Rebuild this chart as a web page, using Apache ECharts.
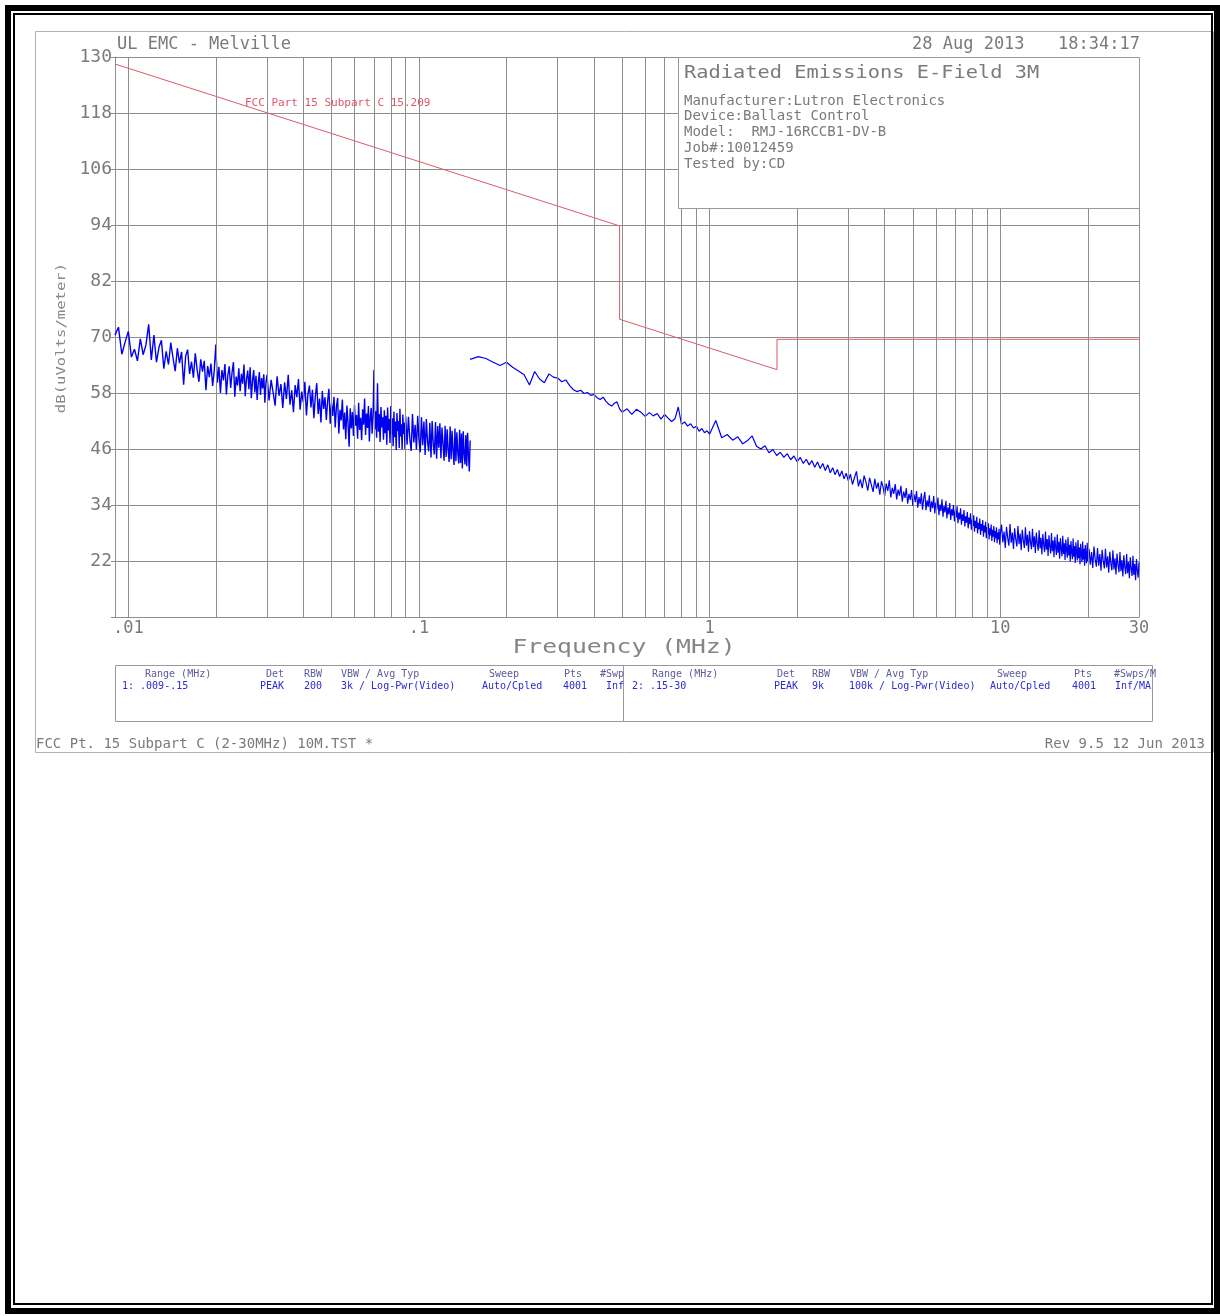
<!DOCTYPE html>
<html>
<head>
<meta charset="utf-8">
<title>Radiated Emissions E-Field 3M</title>
<script src="https://cdn.jsdelivr.net/npm/echarts@6/dist/echarts.min.js"></script>
<style>
html, body { margin: 0; padding: 0; background: #fff; }
#emiChart { width: 1220px; height: 1316px; }
</style>
</head>
<body>
<div id="emiChart"></div>
<script>
// FCC 15.209 limit, extrapolated to 3 m  [MHz, dBuV/m]
const limitLine = [[0.009, 128.5], [0.49, 93.8], [0.49, 73.8], [1.705, 63.0], [1.705, 69.5], [30, 69.5]]

// range 1: 9 - 150 kHz, peak  [kHz, dBuV/m]
const sweep1kHz = [
  [9.00, 70.4], [9.25, 72.1], [9.50, 66.3], [9.75, 68.9], [10.00, 71.2], [10.25, 65.7], [10.50, 67.4], [10.75, 64.9],
  [11.00, 69.6], [11.25, 66.2], [11.50, 68.3], [11.75, 72.7], [12.00, 65.1], [12.25, 70.4], [12.50, 64.6], [12.75, 67.8],
  [13.00, 69.3], [13.25, 63.2], [13.50, 66.9], [13.75, 64.1], [14.00, 68.8], [14.25, 65.5], [14.50, 62.7], [14.75, 67.6],
  [15.00, 64.4], [15.25, 66.8], [15.50, 59.8], [15.75, 65.9], [16.00, 67.3], [16.25, 62.1], [16.50, 64.7], [16.75, 61.3],
  [17.00, 66.5], [17.25, 63.0], [17.50, 60.4], [17.75, 65.2], [18.00, 62.6], [18.25, 64.9], [18.50, 58.6], [18.75, 63.8],
  [19.00, 61.4], [19.25, 64.3], [19.50, 59.5], [19.75, 62.7], [20.00, 68.4], [20.25, 60.2], [20.50, 63.6], [20.75, 58.0],
  [21.00, 62.9], [21.25, 60.7], [21.50, 64.2], [21.75, 57.7], [22.00, 61.8], [22.25, 63.7], [22.50, 59.1], [22.75, 62.4],
  [23.00, 64.6], [23.25, 57.2], [23.50, 61.5], [23.75, 59.6], [24.00, 63.3], [24.25, 58.4], [24.50, 62.1], [24.75, 60.0],
  [25.00, 64.1], [25.25, 57.3], [25.50, 61.0], [25.75, 62.8], [26.00, 58.8], [26.25, 63.5], [26.50, 56.9], [26.75, 60.6],
  [27.00, 62.9], [27.25, 58.1], [27.50, 61.7], [27.75, 56.5], [28.00, 60.3], [28.25, 62.5], [28.50, 57.6], [28.75, 61.2],
  [29.00, 59.0], [29.25, 62.0], [29.50, 55.9], [29.75, 60.1], [30.00, 61.9],
  [30.5, 56.4], [31.0, 60.8], [31.5, 58.1], [32.0, 55.3], [32.5, 61.6], [33.0, 57.4], [33.5, 59.9], [34.0, 54.8],
  [34.5, 60.3], [35.0, 56.7], [35.5, 61.9], [36.0, 55.5], [36.5, 58.6], [37.0, 53.9], [37.5, 59.7], [38.0, 57.1],
  [38.5, 61.0], [39.0, 54.4], [39.5, 58.3], [40.0, 56.0], [40.5, 60.4], [41.0, 53.2], [41.5, 57.8], [42.0, 59.6],
  [42.5, 54.9], [43.0, 58.7], [43.5, 52.6], [44.0, 57.3], [44.5, 60.1], [45.0, 53.5], [45.5, 56.8], [46.0, 51.7],
  [46.5, 58.4], [47.0, 54.6], [47.5, 57.1], [48.0, 52.2], [48.5, 56.3], [49.0, 58.9], [49.5, 51.4], [50.0, 55.8],
  [50.5, 53.1], [51.0, 57.2], [51.5, 50.6], [52.0, 55.0], [52.5, 56.9], [53.0, 49.3], [53.5, 54.4], [54.0, 52.1],
  [54.5, 56.6], [55.0, 50.2], [55.5, 53.8], [56.0, 48.1], [56.5, 55.3], [57.0, 51.6], [57.5, 46.5], [58.0, 54.7],
  [58.5, 50.4], [59.0, 53.9], [59.5, 48.8], [60.0, 55.4], [60.5, 51.0], [61.0, 53.3], [61.5, 48.2], [62.0, 55.9],
  [62.5, 50.1], [63.0, 52.7], [63.5, 47.9], [64.0, 54.5], [64.5, 51.2], [65.0, 56.8], [65.5, 49.0], [66.0, 53.6],
  [66.5, 50.5], [67.0, 55.2], [67.5, 47.6], [68.0, 52.9], [68.5, 54.8], [69.0, 49.3], [69.5, 53.0], [70.0, 62.9],
  [70.5, 50.2], [71.0, 54.1], [71.5, 48.4], [72.0, 60.1], [72.5, 49.7], [73.0, 53.5], [73.5, 47.5], [74.0, 55.0],
  [74.5, 50.6], [75.0, 52.8], [75.5, 48.0], [76.0, 54.3], [76.5, 49.4], [77.0, 53.1], [77.5, 46.9], [78.0, 54.9],
  [78.5, 50.0], [79.0, 52.4], [79.5, 47.3], [80.0, 55.2], [80.5, 49.1], [81.0, 52.6], [81.5, 46.6], [82.0, 54.0],
  [82.5, 48.5], [83.0, 51.9], [83.5, 45.8], [84.0, 53.7], [84.5, 49.8], [85.0, 52.0], [85.5, 46.2], [86.0, 54.6],
  [86.5, 48.7], [87.0, 51.3], [87.5, 45.9], [88.0, 53.4], [88.5, 49.2], [89.0, 51.6], [89.5, 46.0], [90.0, 53.0],
  [91, 46.9], [92, 52.9], [93, 48.2], [94, 45.6], [95, 53.5], [96, 47.4], [97, 51.2], [98, 45.9], [99, 53.1], [100, 48.0],
  [101, 45.3], [102, 52.8], [103, 46.8], [104, 51.9], [105, 44.7], [106, 52.4], [107, 47.6], [108, 45.5], [109, 51.6], [110, 44.2],
  [111, 52.0], [112, 46.9], [113, 44.8], [114, 51.8], [115, 43.9], [116, 50.9], [117, 46.3], [118, 51.5], [119, 44.0], [120, 50.6],
  [121, 47.1], [122, 43.5], [123, 51.0], [124, 44.3], [125, 50.2], [126, 45.8], [127, 43.2], [128, 50.8], [129, 43.8], [130, 49.9],
  [131, 45.6], [132, 42.6], [133, 50.4], [134, 43.4], [135, 49.6], [136, 45.2], [137, 42.9], [138, 50.1], [139, 43.0], [140, 49.3],
  [141, 41.8], [142, 49.8], [143, 45.0], [144, 42.7], [145, 49.0], [146, 42.3], [147, 49.5], [148, 44.6], [149, 41.2], [150, 47.8]
]

// range 2: .15 - 30 MHz, peak  [MHz, dBuV/m]
const sweep2 = [
  [0.15, 65.2], [0.16, 65.8], [0.17, 65.4], [0.18, 64.6], [0.19, 63.9], [0.2, 64.6], [0.21, 63.5], [0.22, 62.7], [0.23, 61.9], [0.24, 59.7],
  [0.25, 62.6], [0.26, 61.0], [0.27, 60.2], [0.28, 62.1], [0.29, 61.4], [0.3, 61.2], [0.31, 60.4], [0.32, 60.8], [0.33, 59.6], [0.34, 58.7],
  [0.35, 58.3], [0.36, 58.6], [0.37, 57.9], [0.38, 58.1], [0.39, 57.5], [0.4, 57.7], [0.41, 57.0], [0.42, 56.6], [0.43, 57.1], [0.44, 56.2],
  [0.45, 55.6], [0.46, 55.2], [0.47, 55.8], [0.48, 56.1], [0.49, 54.6], [0.5, 53.9],
  [0.52, 54.6], [0.54, 53.4], [0.56, 54.5], [0.58, 53.9], [0.6, 53.0], [0.62, 53.8], [0.64, 53.1], [0.66, 53.6], [0.68, 52.4], [0.7, 53.4],
  [0.72, 52.6], [0.74, 51.9], [0.76, 52.5], [0.78, 55.0], [0.8, 51.3], [0.82, 51.8], [0.84, 50.9], [0.86, 51.4], [0.88, 50.5], [0.9, 50.9],
  [0.92, 49.8], [0.94, 50.4], [0.96, 49.5], [0.98, 49.9], [1.0, 49.2],
  [1.05, 52.1], [1.1, 48.4], [1.15, 49.1], [1.2, 47.9], [1.25, 48.6], [1.3, 47.1], [1.35, 47.8], [1.4, 48.8], [1.45, 46.6], [1.5, 46.0],
  [1.55, 46.7], [1.6, 45.2], [1.65, 45.9], [1.7, 44.6], [1.75, 45.3], [1.8, 44.2], [1.85, 45.0], [1.9, 43.7], [1.95, 44.5], [2.0, 43.3],
  [2.05, 44.2], [2.1, 42.9], [2.15, 43.8], [2.2, 42.6], [2.25, 43.5], [2.3, 42.1], [2.35, 43.2], [2.4, 41.8], [2.45, 42.9], [2.5, 41.4],
  [2.55, 42.6], [2.6, 40.9], [2.65, 42.0], [2.7, 40.5], [2.75, 41.6], [2.8, 40.1], [2.85, 41.3], [2.9, 39.6], [2.95, 40.8], [3.0, 39.2],
  [3.05, 40.6], [3.10, 38.4], [3.15, 39.9], [3.20, 41.2], [3.25, 38.0], [3.30, 39.5], [3.35, 37.6], [3.40, 40.3], [3.45, 38.9], [3.50, 37.1],
  [3.55, 39.8], [3.60, 38.3], [3.65, 36.8], [3.70, 39.6], [3.75, 37.5], [3.80, 38.8], [3.85, 36.2], [3.90, 39.1], [3.95, 37.9], [4.00, 35.9],
  [4.05, 38.6], [4.10, 37.0], [4.15, 39.3], [4.20, 35.6], [4.25, 37.7], [4.30, 36.4], [4.35, 38.5], [4.40, 35.2], [4.45, 37.3], [4.50, 36.0],
  [4.55, 38.1], [4.60, 34.7], [4.65, 36.9], [4.70, 35.5], [4.75, 37.6], [4.80, 34.3], [4.85, 36.4], [4.90, 35.1], [4.95, 37.2], [5.00, 33.8],
  [5.05, 36.3], [5.10, 34.6], [5.15, 37.0], [5.20, 33.4], [5.25, 35.7], [5.30, 34.2], [5.35, 36.5], [5.40, 33.0], [5.45, 35.4], [5.50, 36.8],
  [5.55, 32.9], [5.60, 35.0], [5.65, 33.6], [5.70, 36.1], [5.75, 32.5], [5.80, 34.8], [5.85, 33.3], [5.90, 35.9], [5.95, 32.2], [6.00, 34.5],
  [6.05, 33.0], [6.10, 35.6], [6.15, 31.8], [6.20, 34.1], [6.25, 32.7], [6.30, 35.2], [6.35, 31.5], [6.40, 33.8], [6.45, 32.4], [6.50, 34.9],
  [6.55, 31.1], [6.60, 33.5], [6.65, 32.0], [6.70, 34.4], [6.75, 30.8], [6.80, 33.1], [6.85, 31.7], [6.90, 34.0], [6.95, 30.5], [7.00, 32.8],
  [7.05, 31.3], [7.10, 33.7], [7.15, 30.1], [7.20, 32.4], [7.25, 30.9], [7.30, 33.3], [7.35, 29.8], [7.40, 32.0], [7.45, 30.6], [7.50, 32.9],
  [7.55, 29.4], [7.60, 31.6], [7.65, 30.2], [7.70, 32.5], [7.75, 29.0], [7.80, 31.3], [7.85, 29.9], [7.90, 32.2], [7.95, 28.7], [8.00, 30.9],
  [8.05, 29.5], [8.10, 31.8], [8.15, 28.3], [8.20, 30.6], [8.25, 29.1], [8.30, 31.5], [8.35, 27.9], [8.40, 30.2], [8.45, 28.8], [8.50, 31.1],
  [8.55, 27.6], [8.60, 29.9], [8.65, 28.5], [8.70, 30.8], [8.75, 27.2], [8.80, 29.6], [8.85, 28.1], [8.90, 30.4], [8.95, 26.9], [9.00, 29.3],
  [9.05, 27.8], [9.10, 30.1], [9.15, 26.6], [9.20, 29.0], [9.25, 27.5], [9.30, 29.8], [9.35, 26.3], [9.40, 28.7], [9.45, 27.2], [9.50, 29.5],
  [9.55, 26.0], [9.60, 28.4], [9.65, 26.9], [9.70, 29.2], [9.75, 25.8], [9.80, 28.1], [9.85, 26.6], [9.90, 28.9], [9.95, 25.5], [10.00, 27.8],
  [10.1, 29.8], [10.2, 26.0], [10.3, 28.3], [10.4, 24.8], [10.5, 29.3], [10.6, 27.0], [10.7, 25.3], [10.8, 29.9], [10.9, 25.9], [11.0, 28.1],
  [11.1, 24.6], [11.2, 29.0], [11.3, 26.7], [11.4, 25.1], [11.5, 29.5], [11.6, 25.6], [11.7, 27.9], [11.8, 24.3], [11.9, 28.7], [12.0, 26.4],
  [12.1, 24.8], [12.2, 29.2], [12.3, 25.3], [12.4, 27.6], [12.5, 24.0], [12.6, 28.4], [12.7, 26.1], [12.8, 24.5], [12.9, 28.9], [13.0, 25.0],
  [13.1, 27.3], [13.2, 23.7], [13.3, 28.1], [13.4, 25.8], [13.5, 24.2], [13.6, 28.6], [13.7, 24.7], [13.8, 27.0], [13.9, 23.4], [14.0, 27.8],
  [14.1, 25.5], [14.2, 23.9], [14.3, 28.3], [14.4, 24.4], [14.5, 26.7], [14.6, 23.1], [14.7, 27.5], [14.8, 25.2], [14.9, 23.6], [15.0, 28.0],
  [15.1, 24.1], [15.2, 26.4], [15.3, 22.8], [15.4, 27.2], [15.5, 24.9], [15.6, 23.3], [15.7, 27.7], [15.8, 23.8], [15.9, 26.1], [16.0, 22.5],
  [16.1, 26.9], [16.2, 24.6], [16.3, 23.0], [16.4, 27.4], [16.5, 23.5], [16.6, 25.8], [16.7, 22.2], [16.8, 26.6], [16.9, 24.3], [17.0, 22.7],
  [17.1, 27.1], [17.2, 23.2], [17.3, 25.5], [17.4, 21.9], [17.5, 26.3], [17.6, 24.0], [17.7, 22.4], [17.8, 26.8], [17.9, 22.9], [18.0, 25.2],
  [18.1, 21.6], [18.2, 26.0], [18.3, 23.7], [18.4, 22.1], [18.5, 26.5], [18.6, 22.6], [18.7, 24.9], [18.8, 21.3], [18.9, 25.7], [19.0, 23.4],
  [19.1, 21.8], [19.2, 26.2], [19.3, 22.3], [19.4, 24.6], [19.5, 21.0], [19.6, 25.4], [19.7, 23.1], [19.8, 21.5], [19.9, 25.9], [20.0, 22.0],
  [20.2, 24.6], [20.4, 21.2], [20.6, 23.9], [20.8, 20.5], [21.0, 25.1], [21.2, 22.4], [21.4, 20.8], [21.6, 24.8], [21.8, 21.0], [22.0, 23.5],
  [22.2, 19.9], [22.4, 24.4], [22.6, 22.0], [22.8, 20.4], [23.0, 24.6], [23.2, 20.6], [23.4, 23.0], [23.6, 19.5], [23.8, 24.0], [24.0, 21.6],
  [24.2, 20.0], [24.4, 24.3], [24.6, 20.2], [24.8, 22.6], [25.0, 19.1], [25.2, 23.6], [25.4, 21.2], [25.6, 19.6], [25.8, 23.9], [26.0, 19.8],
  [26.2, 22.2], [26.4, 18.7], [26.6, 23.2], [26.8, 20.8], [27.0, 19.2], [27.2, 23.5], [27.4, 19.4], [27.6, 21.8], [27.8, 18.3], [28.0, 22.8],
  [28.2, 20.4], [28.4, 18.8], [28.6, 23.1], [28.8, 19.0], [29.0, 21.4], [29.2, 17.9], [29.4, 22.4], [29.6, 20.0], [29.8, 18.4], [30.0, 21.7]
]

// log grid lines between the decades
const minorGridMHz = [0.02, 0.03, 0.04, 0.05, 0.06, 0.07, 0.08, 0.09,
  0.2, 0.3, 0.4, 0.5, 0.6, 0.7, 0.8, 0.9,
  2, 3, 4, 5, 6, 7, 8, 9, 20]

const freqTickValues = [0.009, 0.01, 0.1, 1, 10, 30]
const freqTickLabels = ['.009', '.01', '.1', '1', '10', '30']

const infoLines = ['Manufacturer:Lutron Electronics', 'Device:Ballast Control', 'Model:  RMJ-16RCCB1-DV-B', 'Job#:10012459', 'Tested by:CD']

const tableHead = ['Range (MHz)', 'Det', 'RBW', 'VBW / Avg Typ', 'Sweep', 'Pts', '#Swp']
const tableRange1 = ['1: .009-.15', 'PEAK', '200', '3k / Log-Pwr(Video)', 'Auto/Cpled', '4001', 'Inf']
const tableHead2 = ['Range (MHz)', 'Det', 'RBW', 'VBW / Avg Typ', 'Sweep', 'Pts', '#Swps/M']
const tableRange2 = ['2: .15-30', 'PEAK', '9k', '100k / Log-Pwr(Video)', 'Auto/Cpled', '4001', 'Inf/MA']

const mono = '"DejaVu Sans Mono", monospace'
const textGray = '#7a7a7a'
const gridGray = '#8e8e8e'
const traceBlue = '#0000ee'

function txt(x, y, text, size, fill, align, extra) {
  return Object.assign({
    type: 'text', x: x, y: y, z: 120, silent: true,
    style: { text: text, fontSize: size, fontFamily: mono, fill: fill, align: align || 'left', verticalAlign: 'middle' }
  }, extra || {})
}

const chart = echarts.init(document.getElementById('emiChart'))

const graphics = [
  // page border (double line)
  { type: 'rect', z: 130, silent: true, shape: { x: 8, y: 8, width: 1209, height: 1303 }, style: { fill: 'none', stroke: '#000', lineWidth: 6 } },
  { type: 'rect', z: 130, silent: true, shape: { x: 14, y: 14, width: 1198, height: 1290 }, style: { fill: 'none', stroke: '#000', lineWidth: 2 } },
  // plotter frame
  { type: 'rect', z: 100, silent: true, shape: { x: 35.5, y: 31.5, width: 1178, height: 721 }, style: { fill: 'none', stroke: '#b0b0b0', lineWidth: 1 } },
  // info box
  { type: 'rect', z: 100, silent: true, shape: { x: 678.5, y: 57.5, width: 461, height: 151 }, style: { fill: '#fff', stroke: '#999', lineWidth: 1 } },
  // setup table
  { type: 'rect', z: 100, silent: true, shape: { x: 115.5, y: 665.5, width: 1037, height: 56 }, style: { fill: '#fff', stroke: '#999', lineWidth: 1 } },
  { type: 'line', z: 101, silent: true, shape: { x1: 623.5, y1: 665, x2: 623.5, y2: 722 }, style: { stroke: '#999', lineWidth: 1 } },

  txt(117, 45, 'UL EMC - Melville', 17, textGray),
  txt(912, 45, '28 Aug 2013', 17, textGray),
  txt(1058, 45, '18:34:17', 17, textGray),
  txt(684, 73, 'Radiated Emissions E-Field 3M', 18, textGray, 'left', { scaleX: 1.13 }),
  txt(245, 103, 'FCC Part 15 Subpart C 15.209', 11, '#e0566a'),
  txt(62, 338, 'dB(uVolts/meter)', 12, '#888', 'center', { rotation: Math.PI / 2, scaleX: 1.3 }),
  txt(624, 648, 'Frequency (MHz)', 19, '#858585', 'center', { scaleX: 1.3 }),
  txt(36, 744, 'FCC Pt. 15 Subpart C (2-30MHz) 10M.TST *', 14, textGray),
  txt(1205, 744, 'Rev 9.5 12 Jun 2013', 14, textGray, 'right')
]

infoLines.forEach((line, i) => {
  graphics.push(txt(684, 101 + i * 15.8, line, 14, textGray))
})

const colLeft = [145, 266, 304, 341, 489, 564, 600]
const valLeft = [122, 260, 304, 341, 482, 563, 606]
const colRight = [652, 777, 812, 850, 997, 1074, 1114]
const valRight = [632, 774, 812, 849, 990, 1072, 1115]
tableHead.forEach((t, i) => graphics.push(txt(colLeft[i], 674, t, 10, '#5c5c9c')))
tableRange1.forEach((t, i) => graphics.push(txt(valLeft[i], 686, t, 10, '#2a2ad6')))
tableHead2.forEach((t, i) => graphics.push(txt(colRight[i], 674, t, 10, '#5c5c9c')))
tableRange2.forEach((t, i) => graphics.push(txt(valRight[i], 686, t, 10, '#2a2ad6')))

const option = {
  animation: false,
  backgroundColor: '#fff',
  grid: { left: 115, top: 57, width: 1024, height: 560, containLabel: false },
  xAxis: {
    type: 'log',
    logBase: 10,
    min: 0.009,
    max: 30,
    axisLine: { show: true, lineStyle: { color: gridGray, width: 1 } },
    axisTick: { show: false },
    splitLine: { show: true, lineStyle: { color: gridGray, width: 1 } },
    axisLabel: {
      margin: 3,
      fontFamily: mono,
      fontSize: 17,
      color: textGray,
      formatter: function(v) {
        let best = 0
        freqTickValues.forEach((t, i) => {
          if (Math.abs(Math.log10(t) - Math.log10(v)) < Math.abs(Math.log10(freqTickValues[best]) - Math.log10(v))) best = i
        })
        return freqTickLabels[best]
      }
    }
  },
  yAxis: {
    type: 'value',
    min: 10,
    max: 130,
    interval: 12,
    axisLine: { show: true, lineStyle: { color: gridGray, width: 1 } },
    axisTick: { show: true, length: 4, lineStyle: { color: gridGray } },
    splitLine: { show: true, lineStyle: { color: gridGray, width: 1 } },
    axisLabel: {
      margin: 3,
      fontFamily: mono,
      fontSize: 18,
      color: textGray,
      formatter: v => (v === 10 ? '' : String(v))
    }
  },
  series: [
    {
      name: 'grid',
      type: 'line',
      data: [],
      silent: true,
      z: 1,
      markLine: {
        silent: true,
        symbol: ['none', 'none'],
        label: { show: false },
        emphasis: { disabled: true },
        lineStyle: { color: gridGray, width: 1, type: 'solid' },
        data: minorGridMHz.map(f => ({ xAxis: f }))
      }
    },
    {
      name: 'FCC 15.209',
      type: 'line',
      data: limitLine,
      symbol: 'none',
      silent: true,
      z: 2,
      lineStyle: { color: '#dc5a6c', width: 1 }
    },
    {
      name: 'Range 1',
      type: 'line',
      data: sweep1kHz.map(p => [p[0] / 1000, p[1]]),
      symbol: 'none',
      silent: true,
      z: 3,
      lineStyle: { color: traceBlue, width: 1.4 }
    },
    {
      name: 'Range 2',
      type: 'line',
      data: sweep2,
      symbol: 'none',
      silent: true,
      z: 3,
      lineStyle: { color: traceBlue, width: 1.2 }
    }
  ],
  graphic: graphics
}

chart.setOption(option)
</script>
</body>
</html>
